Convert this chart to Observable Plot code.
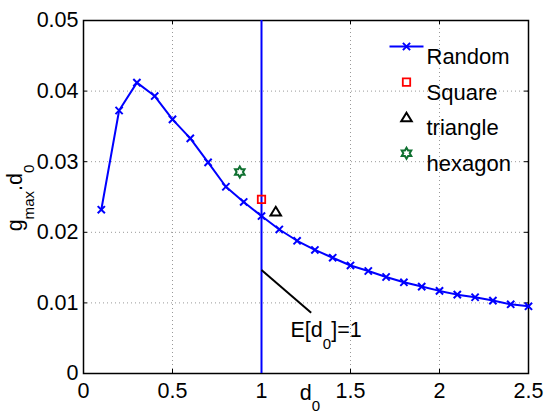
<!DOCTYPE html>
<html>
<head>
<meta charset="utf-8">
<script src="https://cdn.jsdelivr.net/npm/d3@7"></script>
<script src="https://cdn.jsdelivr.net/npm/@observablehq/plot@0.6"></script>
<style>
  html, body { margin: 0; padding: 0; background: #fff; }
</style>
</head>
<body>
<div id="chart"></div>
<script>
// ---- data ----
const randomX = [0.1, 0.2, 0.3, 0.4, 0.5, 0.6, 0.7, 0.8, 0.9, 1.0, 1.1, 1.2, 1.3, 1.4, 1.5, 1.6, 1.7, 1.8, 1.9, 2.0, 2.1, 2.2, 2.3, 2.4, 2.5];
const randomY = [0.0232, 0.03725, 0.0412, 0.0393, 0.0360, 0.0333, 0.0299, 0.02645, 0.0243, 0.0223, 0.0204, 0.0188, 0.0175, 0.0164, 0.0153, 0.01452, 0.01367, 0.01292, 0.01231, 0.0117, 0.01117, 0.0108, 0.01033, 0.0098, 0.00952];
const squareX = [1.0], squareY = [0.02466];
const triangleX = [1.08], triangleY = [0.0229];
const hexagonX = [0.878], hexagonY = [0.02853];
const vlineX = [1];
const annotX1 = [1.0], annotY1 = [0.01467], annotX2 = [1.279], annotY2 = [0.00859];
const annotTextX = [1.163], annotTextY = [0.00608], annotText = ["E[d_0]=1"];
const xTicks = [0, 0.5, 1, 1.5, 2, 2.5];
const yTicks = [0, 0.01, 0.02, 0.03, 0.04, 0.05];
const xGrid = [0.5, 1, 1.5, 2];
const yGrid = [0.01, 0.02, 0.03, 0.04];
const legendLabels = ["Random", "Square", "triangle", "hexagon"];
const xLabel = "d_0";
const yLabel = "g_{max}.d_0";

// ---- symbols ----
const rOf = size => Math.sqrt(size / Math.PI);
const symTimes = {draw(c, s) { const r = rOf(s); c.moveTo(-r, -r); c.lineTo(r, r); c.moveTo(-r, r); c.lineTo(r, -r); }};
const symSquare = {draw(c, s) { const r = rOf(s); c.rect(-r, -r, 2 * r, 2 * r); }};
const symTriangle = {draw(c, s) { const r = rOf(s); c.moveTo(0, -r); c.lineTo(r * 1.05, r * 0.72); c.lineTo(-r * 1.05, r * 0.72); c.closePath(); }};
const symHexagram = {draw(c, s) {
  const R = rOf(s), ri = R / Math.sqrt(3);
  for (let k = 0; k < 12; k++) {
    const a = -Math.PI / 2 + k * Math.PI / 6;
    const rr = k % 2 === 0 ? R : ri;
    const px = rr * Math.cos(a), py = rr * Math.sin(a);
    if (k === 0) c.moveTo(px, py); else c.lineTo(px, py);
  }
  c.closePath();
}};
const symLegendLine = {draw(c, s) { c.moveTo(-17, 0); c.lineTo(17, 0); }};

const legendStyles = [
  {symbol: symTimes, stroke: "#0000ff", r: 3.6, sw: 2, line: true},
  {symbol: symSquare, stroke: "#ff0000", r: 3.7, sw: 1.8},
  {symbol: symTriangle, stroke: "#000000", r: 5, sw: 2},
  {symbol: symHexagram, stroke: "#0f7030", r: 5.5, sw: 2}
];

const W = 548, H = 413, mL = 83, mR = 20, mT = 20, mB = 40;
const plotH = H - mT - mB, plotW = W - mL - mR;
const tickLen = 4;

const legendMarks = [];
legendLabels.forEach((lab, i) => {
  const st = legendStyles[i];
  const dy = 26 + 35.6 * i;
  if (st.line) legendMarks.push(Plot.dot([0], {frameAnchor: "top-right", dx: -122, dy, symbol: symLegendLine, r: 1, stroke: st.stroke, strokeWidth: 2}));
  legendMarks.push(Plot.dot([0], {frameAnchor: "top-right", dx: -122, dy, symbol: st.symbol, r: st.r, stroke: st.stroke, strokeWidth: st.sw, fill: "none"}));
  legendMarks.push(Plot.text([lab], {frameAnchor: "top-right", dx: -102, dy: dy + 2, text: d => d, textAnchor: "start", fill: "#000", fontSize: 22}));
});

const chart = Plot.plot({
  width: W, height: H,
  marginLeft: mL, marginRight: mR, marginTop: mT, marginBottom: mB,
  style: {fontFamily: "'Liberation Sans', Arial, Helvetica, sans-serif", fontSize: "21.5px", background: "#fff", color: "#000"},
  x: {domain: [0, 2.5]},
  y: {domain: [0, 0.05]},
  marks: [
    Plot.gridX(xGrid, {stroke: "#999", strokeOpacity: 1, strokeDasharray: "1,3"}),
    Plot.gridY(yGrid, {stroke: "#999", strokeOpacity: 1, strokeDasharray: "1,3"}),
    // inward ticks on all four sides
    Plot.tickX(xTicks, {x: d => d, insetTop: plotH - tickLen, stroke: "#000"}),
    Plot.tickX(xTicks, {x: d => d, insetBottom: plotH - tickLen, stroke: "#000"}),
    Plot.tickY(yTicks, {y: d => d, insetRight: plotW - tickLen, stroke: "#000"}),
    Plot.tickY(yTicks, {y: d => d, insetLeft: plotW - tickLen, stroke: "#000"}),
    Plot.axisX({ticks: xTicks, tickFormat: d => String(d), tickSize: 0, tickPadding: 9, label: null}),
    Plot.axisY({ticks: yTicks, tickFormat: d => String(d), tickSize: 0, tickPadding: 5, label: null}),
    Plot.frame({stroke: "#000", strokeWidth: 1.5}),
    // vertical line at d0 = 1
    Plot.ruleX(vlineX, {x: d => d, stroke: "#0000ff", strokeWidth: 2}),
    // Random series
    Plot.line(randomX.map((x, i) => ({x, y: randomY[i]})), {x: "x", y: "y", stroke: "#0000ff", strokeWidth: 2}),
    Plot.dot(randomX.map((x, i) => ({x, y: randomY[i]})), {x: "x", y: "y", symbol: symTimes, r: 3.6, stroke: "#0000ff", strokeWidth: 2, fill: "none"}),
    Plot.dot(squareX.map((x, i) => ({x, y: squareY[i]})), {x: "x", y: "y", symbol: symSquare, r: 3.7, stroke: "#ff0000", strokeWidth: 1.8, fill: "none"}),
    Plot.dot(triangleX.map((x, i) => ({x, y: triangleY[i]})), {x: "x", y: "y", symbol: symTriangle, r: 5, stroke: "#000", strokeWidth: 2, fill: "none"}),
    Plot.dot(hexagonX.map((x, i) => ({x, y: hexagonY[i]})), {x: "x", y: "y", symbol: symHexagram, r: 5.5, stroke: "#0f7030", strokeWidth: 2, fill: "none"}),
    // annotation
    Plot.link(annotX1.map((x, i) => ({x1: x, y1: annotY1[i], x2: annotX2[i], y2: annotY2[i]})), {x1: "x1", y1: "y1", x2: "x2", y2: "y2", stroke: "#000", strokeWidth: 2}),
    Plot.text(annotText.map((t, i) => ({t, x: annotTextX[i], y: annotTextY[i]})), {x: "x", y: "y", text: "t", textAnchor: "start", fill: "#000"}),
    // axis labels
    Plot.text([xLabel], {frameAnchor: "bottom", dx: 4, dy: 26, text: d => d, textAnchor: "middle", fill: "#000"}),
    Plot.text([yLabel], {frameAnchor: "left", dx: -68, dy: 1, rotate: -90, text: d => d, textAnchor: "middle", fill: "#000"}),
    ...legendMarks
  ]
});

// TeX-like subscripts: "_x" or "_{...}"
const NS = "http://www.w3.org/2000/svg";
d3.select(chart).selectAll("text").each(function () {
  const s = this.textContent;
  if (!s.includes("_")) return;
  const parts = [];
  const re = /_\{([^}]*)\}|_(.)/g;
  let last = 0, m;
  while ((m = re.exec(s))) {
    if (m.index > last) parts.push({t: s.slice(last, m.index), sub: false});
    parts.push({t: m[1] !== undefined ? m[1] : m[2], sub: true});
    last = re.lastIndex;
  }
  if (last < s.length) parts.push({t: s.slice(last), sub: false});
  this.textContent = "";
  let shifted = false;
  for (const p of parts) {
    const ts = document.createElementNS(NS, "tspan");
    ts.textContent = p.t;
    if (p.sub) {
      ts.setAttribute("font-size", "0.7em");
      if (!shifted) { ts.setAttribute("dy", "11.5"); shifted = true; }
    } else if (shifted) {
      ts.setAttribute("dy", "-11.5"); shifted = false;
    }
    this.appendChild(ts);
  }
});

document.getElementById("chart").appendChild(chart);
</script>
</body>
</html>
